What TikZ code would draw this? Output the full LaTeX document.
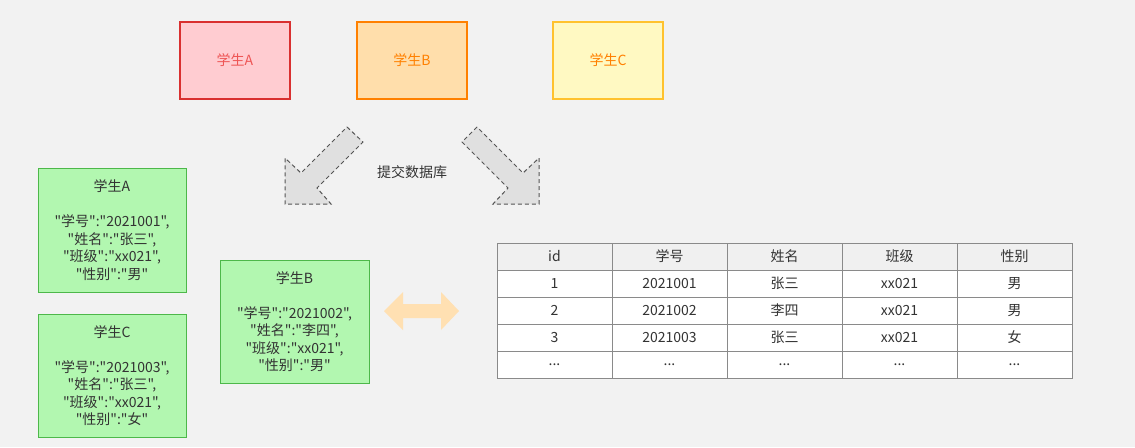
\documentclass[tikz,border=0pt]{standalone}
\usepackage{fontspec}
\newfontfamily\cjkf{Noto Sans CJK SC}
\definecolor{bg}{HTML}{F2F2F2}
\definecolor{txt}{HTML}{333333}
\definecolor{grnf}{HTML}{B2F7B0}
\definecolor{grnb}{HTML}{4DB84A}
\definecolor{tblb}{HTML}{8A8A8A}
\definecolor{hdr}{HTML}{F0F0F0}
\definecolor{arrb}{HTML}{555555}
\definecolor{arrf}{HTML}{E0E0E0}
\definecolor{dbl}{HTML}{FFE0B2}
\definecolor{redb}{HTML}{D93030}
\definecolor{redf}{HTML}{FFCCD1}
\definecolor{redt}{HTML}{EE5555}
\definecolor{orab}{HTML}{FF8000}
\definecolor{oraf}{HTML}{FFDEAB}
\definecolor{orat}{HTML}{FF8000}
\definecolor{yelb}{HTML}{FFC22E}
\definecolor{yelf}{HTML}{FFF9C2}
\newcommand\tdots{...}
\begin{document}
\begin{tikzpicture}[x=0.75pt,y=-0.75pt,
  every node/.style={font=\cjkf\fontsize{10.5pt}{13.1pt}\selectfont, text=txt},
  topbox/.style={draw, line width=1.5pt, minimum width=82.5pt, minimum height=57.75pt, inner sep=0pt},
  greenbox/.style={draw=grnb, fill=grnf, line width=0.75pt, align=center, inner sep=0pt, minimum width=111pt},
  cell/.style={draw=tblb, line width=0.75pt, fill=white, minimum width=86.25pt, minimum height=20.25pt, inner sep=0pt},
  hcell/.style={cell, fill=hdr},
  bigarrow/.style={draw=arrb, fill=arrf, dash pattern=on 3pt off 2.25pt, line width=0.75pt, line join=miter},
]
\fill[bg] (0,0) rectangle (1135,447);
\useasboundingbox (0,0) rectangle (1135,447);

% top boxes
\node[topbox, draw=redb, fill=redf, text=redt] (tA) at (235,60.5) {学生A};
\node[topbox, draw=orab, fill=oraf, text=orat] (tB) at (412,60.5) {学生B};
\node[topbox, draw=yelb, fill=yelf, text=orat] (tC) at (608,60.5) {学生C};

% dashed block arrows
\draw[bigarrow] (347,127) -- (363,142) -- (317,188) -- (331,204) -- (285,204) -- (285,158) -- (301,173) -- cycle;
\draw[bigarrow] (477,127) -- (462,142) -- (508,188) -- (493,204) -- (539,204) -- (539,158) -- (523,173) -- cycle;
\node (lbl) at (412,172) {提交数据库};

% green boxes
\node[greenbox, minimum height=93pt] (gA) at (112,230) {学生A\\[13.1pt]
"学号":"2021001",\\
"姓名":"张三",\\
"班级":"xx021",\\
"性别":"男"};
\node[greenbox, minimum height=92.25pt] (gC) at (112,375.5) {学生C\\[13.1pt]
"学号":"2021003",\\
"姓名":"张三",\\
"班级":"xx021",\\
"性别":"女"};
\node[greenbox, minimum height=92.25pt, minimum width=111.75pt] (gB) at (294.5,321.5) {学生B\\[13.1pt]
"学号":"2021002",\\
"姓名":"李四",\\
"班级":"xx021",\\
"性别":"男"};

% double arrow
\fill[dbl] (384,311) -- (403,292) -- (403,304) -- (441,304) -- (441,292) -- (459,311)
  -- (441,330) -- (441,318) -- (403,318) -- (403,330) -- cycle;

% table
\foreach \t [count=\c] in {id,学号,姓名,班级,性别}
  \node[hcell] (h\c) at ({439.5+115*\c},256.5) {\t};
\foreach \r/\a/\b/\d/\e/\f in {1/1/2021001/张三/xx021/男, 2/2/2021002/李四/xx021/男, 3/3/2021003/张三/xx021/女, 4/\tdots/\tdots/\tdots/\tdots/\tdots}{
  \node[cell] (r\r c1) at (554.5,256.5+27*\r) {\a};
  \node[cell] (r\r c2) at (669.5,256.5+27*\r) {\b};
  \node[cell] (r\r c3) at (784.5,256.5+27*\r) {\d};
  \node[cell] (r\r c4) at (899.5,256.5+27*\r) {\e};
  \node[cell] (r\r c5) at (1014.5,256.5+27*\r) {\f};
}
\end{tikzpicture}
\end{document}
